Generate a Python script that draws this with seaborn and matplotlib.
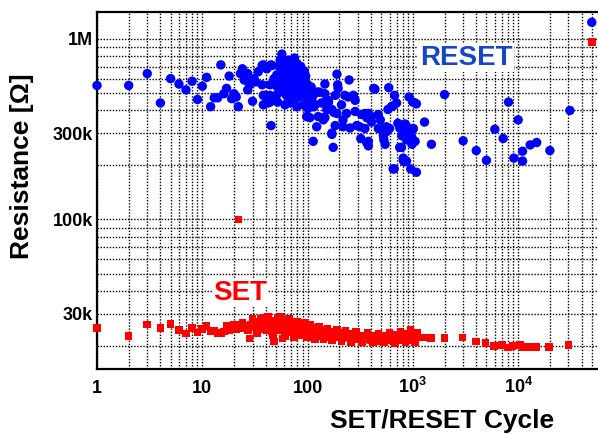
import numpy as np
import pandas as pd
import matplotlib
matplotlib.use("Agg")
import matplotlib.pyplot as plt
import seaborn as sns
from matplotlib.ticker import FixedLocator, LogLocator, NullFormatter

sns.set_theme(style="white")
plt.rcParams['font.family'] = ['Liberation Sans', 'DejaVu Sans']
plt.rcParams['font.weight'] = 'bold'
plt.rcParams['text.color'] = 'black'
plt.rcParams['axes.labelcolor'] = 'black'
plt.rcParams['xtick.color'] = 'black'
plt.rcParams['ytick.color'] = 'black'
plt.rcParams['mathtext.fontset'] = 'custom'
plt.rcParams['mathtext.rm'] = 'Liberation Sans:bold'
plt.rcParams['mathtext.bf'] = 'Liberation Sans:bold'
plt.rcParams['mathtext.it'] = 'Liberation Sans:bold'

# RESET state resistance (kOhm) versus cycle number
reset_cycle = [
    1, 2, 3, 4, 5, 6, 7, 8, 9, 10,
    11, 12, 13, 14, 15, 16, 17, 18, 19, 20,
    21, 22, 23, 24, 25, 26, 27, 27, 28, 30,
    31, 32, 34, 37, 37, 38, 38, 38, 40, 41,
    42, 44, 44, 44, 45, 45, 45, 46, 48, 50,
    51, 51, 52, 52, 55, 57, 57, 58, 60, 61,
    62, 63, 63, 65, 66, 68, 68, 68, 70, 72,
    74, 75, 76, 76, 78, 79, 79, 80, 82, 82,
    84, 86, 88, 90, 91, 91, 91, 93, 95, 98,
    98, 101, 105, 105, 108, 113, 113, 115, 117, 122,
    122, 126, 126, 130, 135, 141, 141, 146, 146, 146,
    152, 152, 157, 158, 165, 170, 170, 170, 175, 178,
    183, 183, 190, 190, 193, 195, 210, 217, 217, 226,
    235, 243, 248, 253, 272, 283, 283, 293, 313, 320,
    326, 350, 350, 360, 365, 365, 378, 378, 378, 405,
    405, 425, 436, 469, 470, 490, 525, 530, 545, 545,
    560, 560, 580, 590, 600, 625, 650, 650, 665, 670,
    700, 720, 750, 750, 780, 785, 810, 810, 830, 840,
    860, 870, 870, 870, 910, 920, 955, 975, 980, 1000,
    1000, 1010, 1050, 1050, 1080, 1080, 1290, 1500, 2000, 3000,
    4000, 5000, 6000, 7200, 8100, 9100, 10000, 11000, 11000, 13000,
    15000, 20000, 31000, 50000,
    53, 54, 56, 58, 59, 60, 62, 64, 66, 67,
    69, 71, 72, 73, 75, 77, 78, 80, 81, 83,
    85, 87, 89, 92, 94, 96, 99, 102, 104, 107,
    110, 112,
]
reset_kohm = [
    550, 550, 640, 440, 600, 560, 520, 580, 460, 545,
    610, 420, 470, 470, 715, 495, 530, 620, 465, 495,
    475, 420, 640, 680, 590, 590, 640, 520, 555, 450,
    600, 575, 655, 710, 555, 715, 485, 430, 485, 680,
    440, 555, 485, 445, 715, 330, 710, 710, 600, 455,
    630, 545, 495, 445, 760, 820, 575, 680, 520, 430,
    640, 545, 485, 590, 760, 700, 485, 440, 620, 560,
    630, 780, 530, 725, 470, 730, 420, 660, 600, 475,
    520, 700, 555, 495, 660, 615, 430, 660, 580, 370,
    510, 410, 365, 465, 540, 420, 270, 420, 430, 505,
    325, 505, 370, 505, 440, 365, 355, 560, 495, 365,
    455, 405, 455, 445, 405, 300, 405, 295, 250, 390,
    485, 330, 635, 385, 555, 530, 430, 355, 325, 485,
    385, 475, 590, 320, 485, 455, 395, 330, 325, 280,
    380, 385, 318, 380, 365, 265, 255, 385, 270, 345,
    370, 530, 525, 380, 318, 355, 290, 275, 260, 312,
    325, 305, 405, 535, 318, 420, 425, 190, 190, 485,
    440, 340, 320, 250, 250, 290, 212, 218, 208, 337,
    295, 328, 210, 275, 300, 475, 190, 285, 260, 445,
    315, 318, 270, 440, 435, 182, 345, 260, 490, 272,
    240, 212, 315, 280, 445, 218, 355, 238, 210, 258,
    266, 240, 400, 1230,
    580, 700, 620, 600, 560, 700, 560, 650, 520, 610,
    580, 690, 500, 650, 600, 560, 680, 520, 620, 560,
    640, 500, 600, 540, 480, 620, 560, 520, 470, 500,
    450, 480,
]

# SET state resistance (kOhm) versus cycle number
set_cycle = [
    1, 2, 3, 4, 5, 6, 7, 8, 9, 10,
    11, 12, 13, 14, 15, 16, 17, 18, 19, 20,
    21, 22, 22, 23, 24, 25, 26, 27, 28, 29,
    30, 31, 32, 33, 34, 35, 36, 37, 38, 39,
    40, 41, 42, 43, 44, 45, 46, 47, 48, 49,
    50, 52, 53, 54, 55, 56, 57, 58, 59, 60,
    62, 63, 65, 66, 68, 70, 71, 73, 75, 77,
    79, 81, 83, 85, 88, 90, 92, 95, 98, 100,
    104, 108, 112, 116, 120, 125, 130, 135, 140, 146,
    152, 158, 165, 172, 180, 188, 196, 205, 215, 225,
    235, 245, 256, 268, 280, 292, 305, 320, 335, 350,
    365, 380, 398, 415, 435, 455, 475, 497, 520, 545,
    570, 595, 620, 650, 680, 710, 740, 775, 810, 845,
    880, 920, 960, 1000, 1050, 1100,
    36, 42, 47, 55, 61, 67, 74, 80, 87, 93,
    99, 106, 118, 128, 142, 155, 170, 190, 210, 230,
    260, 290, 330, 370, 420, 470, 530, 600, 680, 760,
    850, 950, 1050,
    1250, 1480, 2000, 2950, 4000, 4900, 5900, 7000, 8000, 8800,
    10400, 11000, 12700, 14800, 19700, 30000, 50000,
]
set_kohm = [
    25.1, 22.6, 26.2, 25.1, 26.4, 24.5, 23.3, 25.1, 23.6, 24.8,
    25.6, 23.9, 24.2, 23.5, 23.3, 24.0, 25.6, 24.3, 24.8, 26.2,
    24.6, 26.2, 100, 25.4, 26.8, 25.0, 25.8, 24.4, 21.9, 26.0,
    28.0, 25.2, 26.5, 23.4, 25.8, 27.0, 24.8, 26.2, 28.5, 25.5,
    27.2, 24.5, 24.6, 26.8, 25.6, 27.5, 24.2, 26.4, 21.1, 25.2,
    27.6, 28.5, 25.0, 26.6, 24.4, 27.0, 25.5, 21.9, 26.3, 24.6,
    27.2, 25.1, 23.9, 26.4, 24.8, 27.0, 25.2, 23.6, 26.0, 24.4,
    25.6, 23.8, 25.8, 24.2, 25.4, 23.4, 24.8, 25.6, 23.2, 24.6,
    23.8, 25.2, 22.8, 24.6, 23.6, 24.4, 22.6, 24.2, 23.4, 24.6,
    22.4, 23.8, 22.8, 23.9, 22.2, 23.4, 22.6, 23.6, 22.0, 23.2,
    22.4, 23.4, 21.8, 22.8, 22.2, 23.2, 21.8, 22.6, 21.6, 22.8,
    21.8, 22.4, 21.4, 22.6, 21.8, 22.4, 21.2, 22.6, 21.8, 22.4,
    21.4, 22.8, 21.6, 22.4, 21.8, 23.0, 21.4, 22.6, 21.8, 23.2,
    21.4, 22.8, 22.0, 23.4, 22.2, 23.6,
    28.2, 29.0, 23.0, 28.8, 22.6, 28.0, 22.4, 27.2, 22.8, 26.6,
    22.2, 26.0, 21.8, 25.4, 21.6, 24.8, 21.4, 24.4, 21.2, 24.2,
    21.0, 24.0, 20.8, 23.6, 20.8, 23.4, 20.8, 23.6, 20.6, 23.8,
    20.8, 24.4, 21.0,
    22.2, 22.1, 22.1, 22.2, 21.1, 20.7, 19.9, 20.1, 19.5, 19.9,
    20.1, 19.6, 19.7, 19.7, 19.6, 20.1, 960,
]

x_ticks = [1, 10, 100, 1e3, 1e4]
x_tick_labels = ['1', '10', '100', r'$10^3$', r'$10^4$']
y_ticks = [3e4, 1e5, 3e5, 1e6]
y_tick_labels = ['30k', '100k', '300k', '1M']

reset = pd.DataFrame({'cycle': reset_cycle, 'ohm': np.array(reset_kohm) * 1e3})
sets = pd.DataFrame({'cycle': set_cycle, 'ohm': np.array(set_kohm) * 1e3})

W, H = 598, 434
fig = plt.figure(figsize=(W / 100, H / 100), dpi=100)
ax = fig.add_axes([97 / W, 1 - 369 / H, 1 - 97 / W, (369 - 12) / H])
ax.set_xscale('log')
ax.set_yscale('log')

sns.scatterplot(data=reset, x='cycle', y='ohm', ax=ax, color='#0000ff',
                marker='o', s=46, edgecolor='none', linewidth=0,
                clip_on=False, zorder=3, legend=False)
sns.scatterplot(data=sets, x='cycle', y='ohm', ax=ax, color='#ff0000',
                marker='s', s=30, edgecolor='none', linewidth=0,
                clip_on=False, zorder=3, legend=False)

ax.set_xlim(1, 5.73e4)
ax.set_ylim(1.486e4, 1.402e6)

ax.xaxis.set_major_locator(FixedLocator(x_ticks))
ax.xaxis.set_minor_locator(LogLocator(base=10, subs=np.arange(2, 10), numticks=30))
ax.xaxis.set_minor_formatter(NullFormatter())
ax.set_xticklabels(x_tick_labels)
ax.yaxis.set_major_locator(FixedLocator(y_ticks))
ax.yaxis.set_minor_locator(LogLocator(base=10, subs=np.arange(1, 10), numticks=30))
ax.yaxis.set_minor_formatter(NullFormatter())
ax.set_yticklabels(y_tick_labels)

ax.grid(True, which='both', color='black', linestyle=(0, (1, 1.2)), linewidth=1.0)
ax.set_axisbelow(True)
ax.tick_params(which='both', length=0)
ax.tick_params(axis='x', labelsize=13, pad=17.5, colors='black')
ax.tick_params(axis='y', labelsize=13, pad=3, colors='black')
for lbl in ax.get_xticklabels():
    lbl.set_va('baseline')
    lbl.set_fontweight('bold')
for lbl in ax.get_yticklabels():
    lbl.set_fontweight('bold')

for side in ['left', 'bottom', 'top']:
    ax.spines[side].set_color('black')
    ax.spines[side].set_linewidth(1.6)
ax.spines['right'].set_visible(False)

ax.set_xlabel('SET/RESET Cycle', fontsize=19, fontweight='bold', color='black')
ax.xaxis.label.set_va('center')
ax.xaxis.set_label_coords(0.689, -0.1457)
ax.set_ylabel('Resistance [Ω]', fontsize=19, fontweight='bold', color='black')
ax.yaxis.label.set_va('center')
ax.yaxis.set_label_coords(-0.15, 0.569)

ax.text(3190, 7.8e5, 'RESET', color='#1446c8', fontsize=20, fontweight='bold',
        ha='center', va='center', zorder=4,
        bbox=dict(facecolor='white', edgecolor='none', pad=1))
ax.text(22.8, 3.91e4, 'SET', color='#ff0000', fontsize=20, fontweight='bold',
        ha='center', va='center', zorder=4,
        bbox=dict(facecolor='white', edgecolor='none', pad=1))

fig.savefig('out.png', dpi=100, facecolor='white')
